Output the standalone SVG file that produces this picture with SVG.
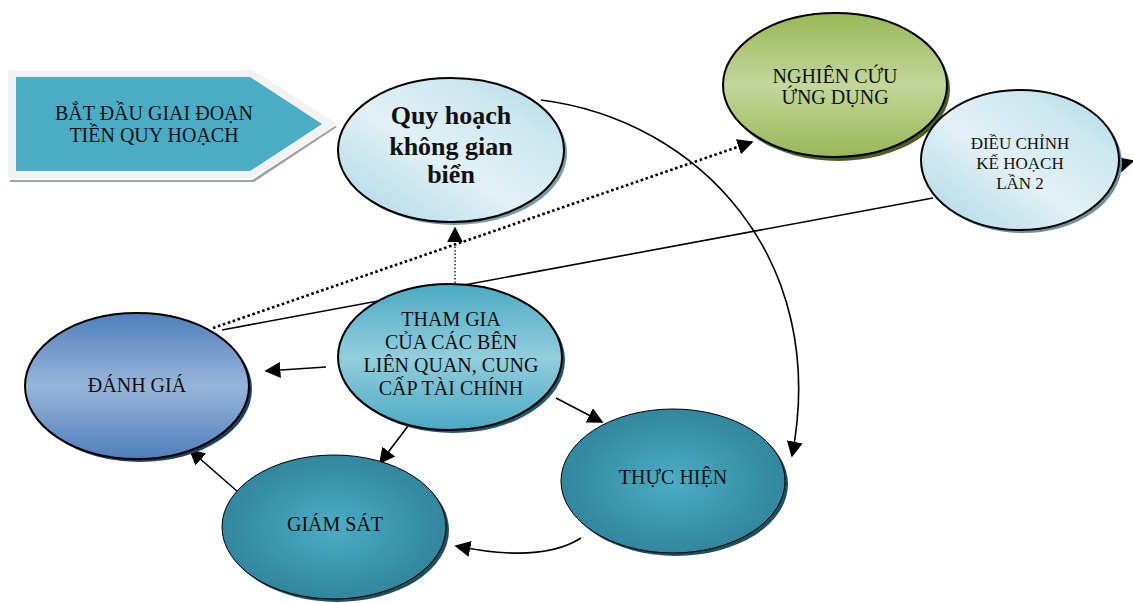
<svg xmlns="http://www.w3.org/2000/svg" width="1133" height="603" viewBox="0 0 1133 603">
<defs>
<style>
.lbl{font-family:'Liberation Serif','Times New Roman',Times,serif;fill:#111;text-anchor:middle}
.t20{font-size:20px}
.t17{font-size:17px}
.bold{font-size:26px;font-weight:bold}
.con{fill:none;stroke:#000;stroke-width:1.6}
.dot{fill:none;stroke:#000;stroke-width:2.6;stroke-dasharray:2.6 2.6}
.dotv{fill:none;stroke:#000;stroke-width:1.3;stroke-dasharray:1.5 2}
</style>
<marker id="ahL" viewBox="0 0 10 10" refX="9" refY="5" markerWidth="16" markerHeight="16" markerUnits="userSpaceOnUse" orient="auto"><path d="M0,0L10,5L0,10z" fill="#000"/></marker>
<linearGradient id="gLight" x1="0" y1="1" x2="1" y2="0"><stop offset="0" stop-color="#a9d6e4"/><stop offset="0.45" stop-color="#e2f1f6"/><stop offset="0.75" stop-color="#cde8f0"/><stop offset="1" stop-color="#a8d4e2"/></linearGradient>
<linearGradient id="gGreen" x1="0" y1="0" x2="0" y2="1"><stop offset="0" stop-color="#98b855"/><stop offset="0.5" stop-color="#c3d79c"/><stop offset="1" stop-color="#98b855"/></linearGradient>
<linearGradient id="gBlue" x1="0" y1="0" x2="0" y2="1"><stop offset="0" stop-color="#4f7fbb"/><stop offset="0.5" stop-color="#98b5d9"/><stop offset="1" stop-color="#4f7fbb"/></linearGradient>
<linearGradient id="gTeal" x1="0" y1="0" x2="0" y2="1"><stop offset="0" stop-color="#4aaac4"/><stop offset="0.5" stop-color="#93cedc"/><stop offset="1" stop-color="#4aaac4"/></linearGradient>
<radialGradient id="gDark" cx="0.5" cy="0.5" r="0.55"><stop offset="0" stop-color="#4badc5"/><stop offset="1" stop-color="#2f8399"/></radialGradient>
</defs>
<rect width="1133" height="603" fill="#fff"/>

<g id="connectors">
<path class="con" d="M541,100 C700,120 830,260 792,456" marker-end="url(#ahL)"/>
<path class="dot" d="M213,328 L752,142" marker-end="url(#ahL)"/>
<path class="dotv" d="M455,283 L455,228" marker-end="url(#ahL)"/>
<path class="con" d="M222,330 L933,198"/>
<path class="con" d="M326,367 L266,371" marker-end="url(#ahL)"/>
<path class="con" d="M556,398 L602,422" marker-end="url(#ahL)"/>
<path class="con" d="M408,426 L380,463" marker-end="url(#ahL)"/>
<path class="con" d="M238,492 L190,450" marker-end="url(#ahL)"/>
<path class="con" d="M581,538 C550,558 500,555 456,546" marker-end="url(#ahL)"/>
<path class="con" d="M1118,165 L1133,161" marker-end="url(#ahL)"/>
</g>

<g id="node-start">
<polygon points="8,70 253,70 337,124 253,178 8,178" fill="#f2f2f2"/>
<polygon points="10,182 254,182 337,127 335,126 252,180 10,180" fill="#9aa4a8"/>
<polygon points="16,77 250,77 322,124 250,171 16,171" fill="#4bacc6"/>
<text class="lbl t20" x="154" y="120">BẮT ĐẦU GIAI ĐOẠN</text>
<text class="lbl t20" x="154" y="142">TIỀN QUY HOẠCH</text>
</g>

<g id="node-quyhoach">
<ellipse cx="454" cy="153" rx="113" ry="72" fill="#7a9aa4"/>
<ellipse cx="451" cy="150" rx="113" ry="72" fill="url(#gLight)" stroke="#000" stroke-width="2"/>
<text class="lbl bold" x="451" y="124">Quy hoạch</text>
<text class="lbl bold" x="451" y="155">không gian</text>
<text class="lbl bold" x="451" y="183">biển</text>
</g>

<g id="node-nghiencuu">
<ellipse cx="838" cy="89" rx="112" ry="72" fill="#4c5e26"/>
<ellipse cx="835" cy="85" rx="112" ry="72" fill="url(#gGreen)" stroke="#000" stroke-width="2"/>
<text class="lbl t20" x="835" y="83">NGHIÊN CỨU</text>
<text class="lbl t20" x="835" y="104">ỨNG DỤNG</text>
</g>

<g id="node-dieuchinh">
<ellipse cx="1023" cy="163" rx="99" ry="70" fill="#6f8f99"/>
<ellipse cx="1020" cy="160" rx="99" ry="70" fill="url(#gLight)" stroke="#000" stroke-width="2"/>
<text class="lbl t17" x="1020" y="149">ĐIỀU CHỈNH</text>
<text class="lbl t17" x="1020" y="169">KẾ HOẠCH</text>
<text class="lbl t17" x="1020" y="189">LẦN 2</text>
</g>

<g id="node-danhgia">
<ellipse cx="140" cy="389" rx="112" ry="73" fill="#243f60"/>
<ellipse cx="137" cy="386" rx="112" ry="73" fill="url(#gBlue)" stroke="#000" stroke-width="2"/>
<text class="lbl t20" x="137" y="392">ĐÁNH GIÁ</text>
</g>

<g id="node-thamgia">
<ellipse cx="453" cy="360" rx="112" ry="73" fill="#215968"/>
<ellipse cx="450" cy="357" rx="112" ry="73" fill="url(#gTeal)" stroke="#000" stroke-width="2"/>
<text class="lbl t20" x="451" y="326">THAM GIA</text>
<text class="lbl t20" x="451" y="349">CỦA CÁC BÊN</text>
<text class="lbl t20" x="451" y="372">LIÊN QUAN, CUNG</text>
<text class="lbl t20" x="451" y="395">CẤP TÀI CHÍNH</text>
</g>

<g id="node-giamsat">
<ellipse cx="337" cy="530" rx="112" ry="72" fill="#1e4f5c"/>
<ellipse cx="334" cy="527" rx="112" ry="72" fill="url(#gDark)" stroke="#000" stroke-width="1"/>
<text class="lbl t20" x="335" y="531">GIÁM SÁT</text>
</g>

<g id="node-thuchien">
<ellipse cx="676" cy="484" rx="112" ry="72" fill="#1e4f5c"/>
<ellipse cx="673" cy="481" rx="112" ry="72" fill="url(#gDark)" stroke="#000" stroke-width="1"/>
<text class="lbl t20" x="673" y="484">THỰC HIỆN</text>
</g>
</svg>
